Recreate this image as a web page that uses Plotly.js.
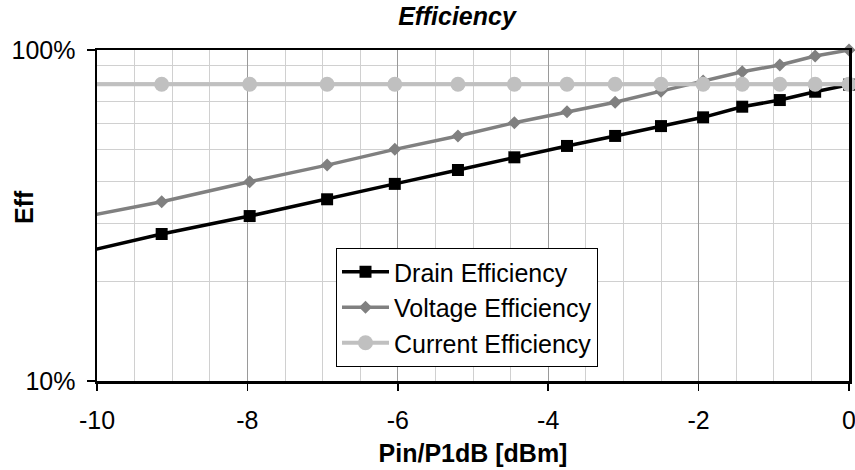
<!DOCTYPE html>
<html>
<head>
<meta charset="utf-8">
<script src="https://cdn.plot.ly/plotly-3.0.1.min.js"></script>
<style>
html,body{margin:0;padding:0;background:#fff;}
#chart{width:855px;height:470px;}
</style>
</head>
<body>
<div id="chart"></div>
<script>
// Data
const pin = [-10.12, -9.14, -7.97, -6.94, -6.04, -5.20, -4.45, -3.75, -3.11, -2.50, -1.94, -1.42, -0.92, -0.45, 0];
const drainEff = [0.247, 0.278, 0.315, 0.354, 0.394, 0.434, 0.474, 0.513, 0.550, 0.589, 0.626, 0.674, 0.706, 0.748, 0.786];
const voltageEff = [0.315, 0.348, 0.400, 0.449, 0.501, 0.550, 0.603, 0.651, 0.695, 0.751, 0.806, 0.860, 0.901, 0.959, 1.0];
const currentEff = [0.788, 0.788, 0.788, 0.788, 0.788, 0.788, 0.788, 0.788, 0.788, 0.788, 0.788, 0.788, 0.788, 0.788, 0.788];
const seriesNames = ['Drain Efficiency', 'Voltage Efficiency', 'Current Efficiency'];
const xTickVals = [-10, -8, -6, -4, -2, 0];
const xTickText = ['-10', '-8', '-6', '-4', '-2', '0'];
const yTickVals = [0.1, 1];
const yTickText = ['10%', '100%'];
const yMinorVals = [0.2, 0.3, 0.4, 0.5, 0.6, 0.7, 0.8, 0.9];
const yTitle = 'Eff';

const FONT = 'Liberation Sans, Arial, sans-serif';
const FS = 25;

const traces = [
  {x: pin, y: drainEff, name: seriesNames[0], type: 'scatter', mode: 'lines+markers',
   cliponaxis: false,
   line: {color: '#000000', width: 3.5},
   marker: {symbol: 'square', size: 12, color: '#000000'}},
  {x: pin, y: voltageEff, name: seriesNames[1], type: 'scatter', mode: 'lines+markers',
   cliponaxis: false,
   line: {color: '#808080', width: 3.5},
   marker: {symbol: 'diamond', size: 10, color: '#808080'}},
  {x: pin, y: currentEff, name: seriesNames[2], type: 'scatter', mode: 'lines+markers',
   cliponaxis: false,
   line: {color: '#c0c0c0', width: 4},
   marker: {symbol: 'circle', size: 15, color: '#c0c0c0'}}
];

const layout = {
  width: 855, height: 470,
  margin: {l: 97, r: 6, t: 50, b: 89, pad: 0},
  paper_bgcolor: '#ffffff', plot_bgcolor: '#ffffff',
  font: {family: FONT, size: FS, color: '#000000'},
  showlegend: true,
  title: {text: '<b><i>Efficiency</i></b>', font: {family: FONT, size: FS, color: '#000'},
          x: 457/855, xanchor: 'center', xref: 'container', y: 1 - 16/470, yanchor: 'middle', yref: 'container'},
  xaxis: {
    range: [-10, 0], tickmode: 'array', tickvals: xTickVals, ticktext: xTickText,
    ticks: 'outside', ticklen: 7, tickwidth: 1.5, tickcolor: '#000',
    ticklabelstandoff: 8, ticklabeloverflow: 'allow',
    showline: true, linecolor: '#000', linewidth: 2.5, mirror: true,
    showgrid: true, gridcolor: '#9a9a9a', gridwidth: 1,
    minor: {dtick: 0.5, showgrid: true, gridcolor: '#d0d0d0', gridwidth: 1, ticks: ''},
    zeroline: false,
    tickfont: {family: FONT, size: FS},
    title: {text: '<b>Pin/P1dB [dBm]</b>', font: {family: FONT, size: FS}, standoff: 12}
  },
  yaxis: {
    type: 'log', range: [-1, 0], tickmode: 'array', tickvals: yTickVals, ticktext: yTickText,
    ticks: 'outside', ticklen: 8, tickwidth: 1.5, tickcolor: '#000',
    ticklabelstandoff: 6, ticklabeloverflow: 'allow',
    showline: true, linecolor: '#000', linewidth: 2.5, mirror: true,
    showgrid: false,
    minor: {tickmode: 'array', tickvals: yMinorVals, showgrid: true, gridcolor: '#d0d0d0', gridwidth: 1, ticks: ''},
    zeroline: false,
    tickfont: {family: FONT, size: FS}
  },
  annotations: [{
    text: '<b>' + yTitle + '</b>', textangle: -90, showarrow: false,
    xref: 'paper', yref: 'paper', x: (24 - 97) / 752, y: (381 - 207) / 331,
    xanchor: 'center', yanchor: 'middle',
    font: {family: FONT, size: FS, color: '#000'}
  }],
  legend: {
    x: (336 - 97) / 752, y: (381 - 248) / 331, xanchor: 'left', yanchor: 'top',
    bgcolor: '#ffffff', bordercolor: '#000000', borderwidth: 1,
    font: {family: FONT, size: FS, color: '#000'},
    traceorder: 'normal', itemwidth: 47
  }
};

Plotly.newPlot('chart', traces, layout, {displayModeBar: false, staticPlot: true});
</script>
</body>
</html>
